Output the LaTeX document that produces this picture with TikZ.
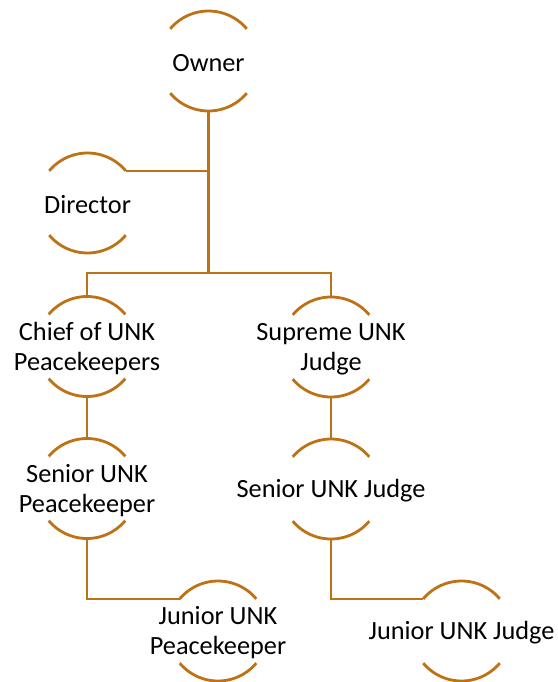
\documentclass[tikz,border=0pt]{standalone}
\usepackage{fontspec}
\setmainfont{Carlito}
\definecolor{accent}{RGB}{190,114,22}
\begin{document}
\begin{tikzpicture}[x=1pt,y=1pt,
  unit/.style={circle,minimum size=100pt,inner sep=0pt,outer sep=0pt},
  txt/.style={font=\fontsize{26.3}{30}\selectfont,align=center,inner sep=0pt,text=black,yshift=-2pt},
  arcline/.style={draw=accent,line width=2.8pt},
  link/.style={draw=accent,line width=2.7pt}]
\useasboundingbox (0,0) rectangle (557,-682);
\node[unit,label={[txt,name=tOwner]center:Owner}] (owner) at (208.5,-61) {};
\node[unit,label={[txt,name=tDirector]center:Director}] (director) at (87.5,-203) {};
\node[unit,label={[txt,name=tChief]center:Chief of UNK\\Peacekeepers}] (chief) at (87,-346.5) {};
\node[unit,label={[txt,name=tSupreme]center:Supreme UNK\\Judge}] (supreme) at (331,-347) {};
\node[unit,label={[txt,name=tSeniorPK]center:Senior UNK\\Peacekeeper}] (seniorpk) at (87,-488.5) {};
\node[unit,label={[txt,name=tSeniorJ]center:Senior UNK Judge}] (seniorj) at (331,-489) {};
\node[unit,label={[txt,name=tJuniorPK]center:Junior UNK\\Peacekeeper}] (juniorpk) at (218,-631) {};
\node[unit,label={[txt,name=tJuniorJ]center:Junior UNK Judge}] (juniorj) at (461.5,-631) {};
\foreach \n in {owner,director,chief,supreme,seniorpk,seniorj,juniorpk,juniorj}{
  \draw[arcline] (\n.40) arc[start angle=40,end angle=140,radius=50pt];
  \draw[arcline] (\n.220) arc[start angle=220,end angle=320,radius=50pt];
}
\coordinate (hub) at (208.5,-273);
\draw[link] (owner.south) -- (hub);
\draw[link] (director.40) -- (director.40 -| owner.south);
\draw[link] (chief.north) -- (chief.north |- hub) -- (supreme.north |- hub) -- (supreme.north);
\draw[link] (chief.south) -- (seniorpk.north);
\draw[link] (supreme.south) -- (seniorj.north);
\draw[link] (seniorpk.south) |- (juniorpk.140);
\draw[link] (seniorj.south) |- (juniorj.140);
\end{tikzpicture}
\end{document}
